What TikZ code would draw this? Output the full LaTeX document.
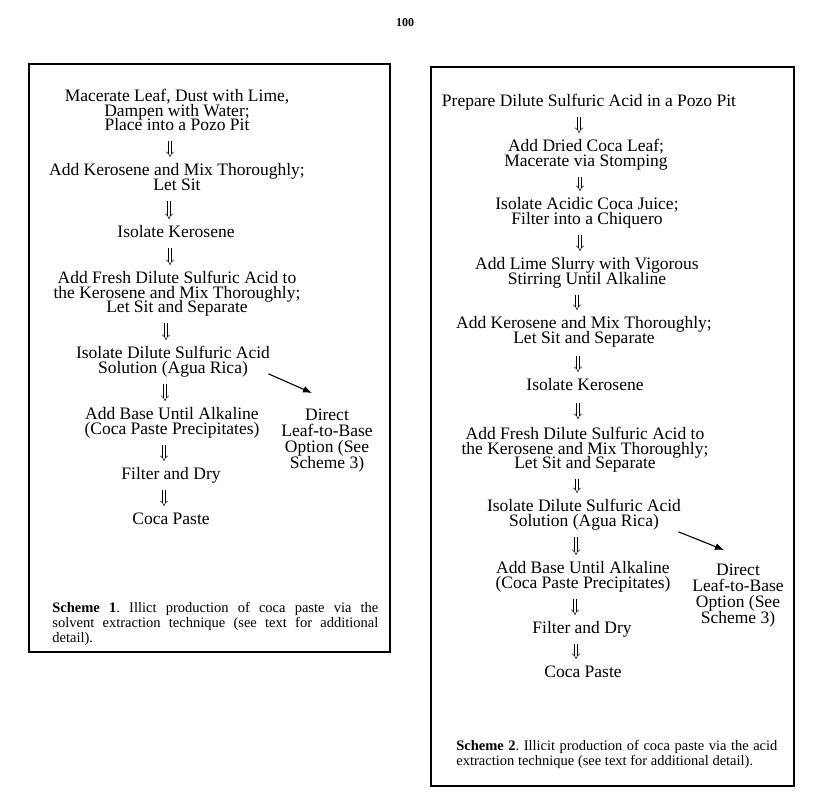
\documentclass[tikz,border=0pt]{standalone}
\usepackage{fontspec}
\setmainfont{Liberation Serif}
\usetikzlibrary{arrows.meta}
\newcommand{\lnstrut}{\rule[-4pt]{0pt}{16.5pt}}
\newcommand{\steptext}[1]{\lnstrut#1\lnstrut}

\begin{document}
\begin{tikzpicture}[x=1pt, y=-1pt, >=Latex, line width=0.8pt,
  txt/.style={align=center, inner sep=0pt, anchor=north,
    font={\fontsize{17.5}{14.5}\selectfont\lineskiplimit=-50pt}},
  sidetxt/.style={txt, font={\fontsize{17.5}{16}\selectfont\lineskiplimit=-50pt}},
  capt/.style={inner sep=0pt, anchor=north west, text width=#1, align=justify,
    font={\fontsize{14.5}{15}\selectfont\frenchspacing\tolerance=10000}},
  flow/.style={double, double distance=2.4pt, line width=0.5pt, -{Implies[scale=1.2]},
    shorten <=6pt, shorten >=6pt},
  jump/.style={-{Latex[length=9pt,width=7pt]}, line width=1.1pt}]
\useasboundingbox (0,0) rectangle (828,806);

\node[inner sep=0pt, font=\bfseries\fontsize{12}{14}\selectfont] (pg) at (405,23) {100};

\draw[line width=1.5pt] (29,64) rectangle (390,652);
\draw[line width=1.5pt] (431,67) rectangle (794,786);

\node[txt] (l1) at (177,89) {\steptext{Macerate Leaf, Dust with Lime,\\ Dampen with Water;\\ Place into a Pozo Pit}};
\node[txt] (l2) at (177,163) {\steptext{Add Kerosene and Mix Thoroughly;\\ Let Sit}};
\node[txt] (l3) at (176,225) {\steptext{Isolate Kerosene}};
\node[txt] (l4) at (177,271) {\steptext{Add Fresh Dilute Sulfuric Acid to\\ the Kerosene and Mix Thoroughly;\\ Let Sit and Separate}};
\node[txt] (l5) at (173,346) {\steptext{Isolate Dilute Sulfuric Acid\\ Solution (Agua Rica)}};
\node[txt] (l6) at (172,407) {\steptext{Add Base Until Alkaline\\ (Coca Paste Precipitates)}};
\node[txt] (l7) at (171,467) {\steptext{Filter and Dry}};
\node[txt] (l8) at (171,512) {\steptext{Coca Paste}};
\node[sidetxt] (ld) at (327,408) {\steptext{Direct\\ Leaf-to-Base\\ Option (See\\ Scheme 3)}};
\node[capt=326pt] (lcap) at (52,602) {\textbf{Scheme 1}. Illict production of coca paste via the\linebreak solvent extraction technique (see text for additional\linebreak detail).};

\node[txt] (r1) at (589,94) {\steptext{Prepare Dilute Sulfuric Acid in a Pozo Pit}};
\node[txt] (r2) at (586,139) {\steptext{Add Dried Coca Leaf;\\ Macerate via Stomping}};
\node[txt] (r3) at (587,197) {\steptext{Isolate Acidic Coca Juice;\\ Filter into a Chiquero}};
\node[txt] (r4) at (587,257) {\steptext{Add Lime Slurry with Vigorous\\ Stirring Until Alkaline}};
\node[txt] (r5) at (584,316) {\steptext{Add Kerosene and Mix Thoroughly;\\ Let Sit and Separate}};
\node[txt] (r6) at (585,378) {\steptext{Isolate Kerosene}};
\node[txt] (r7) at (585,427) {\steptext{Add Fresh Dilute Sulfuric Acid to\\ the Kerosene and Mix Thoroughly;\\ Let Sit and Separate}};
\node[txt] (r8) at (584,499) {\steptext{Isolate Dilute Sulfuric Acid\\ Solution (Agua Rica)}};
\node[txt] (r9) at (583,561) {\steptext{Add Base Until Alkaline\\ (Coca Paste Precipitates)}};
\node[txt] (r10) at (582,621) {\steptext{Filter and Dry}};
\node[txt] (r11) at (583,665) {\steptext{Coca Paste}};
\node[sidetxt] (rd) at (738,563) {\steptext{Direct\\ Leaf-to-Base\\ Option (See\\ Scheme 3)}};
\node[capt=321pt] (rcap) at (456,740) {\textbf{Scheme 2}. Illicit production of coca paste via the acid\linebreak extraction technique (see text for additional detail).};

\draw[flow] ([xshift=-7pt]l2.north |- l1.south) -- ([xshift=-7pt]l2.north);
\draw[flow] ([xshift=-7pt]l3.north |- l2.south) -- ([xshift=-7pt]l3.north);
\draw[flow] ([xshift=-7pt]l4.north |- l3.south) -- ([xshift=-7pt]l4.north);
\draw[flow] ([xshift=-7pt]l5.north |- l4.south) -- ([xshift=-7pt]l5.north);
\draw[flow] ([xshift=-7pt]l6.north |- l5.south) -- ([xshift=-7pt]l6.north);
\draw[flow] ([xshift=-7pt]l7.north |- l6.south) -- ([xshift=-7pt]l7.north);
\draw[flow] ([xshift=-7pt]l8.north |- l7.south) -- ([xshift=-7pt]l8.north);
\draw[jump] ([shift={(-2,-4)}]l5.south east) -- ([shift={(-15,-15)}]ld.north);

\draw[flow] ([xshift=-7pt]r2.north |- r1.south) -- ([xshift=-7pt]r2.north);
\draw[flow] ([xshift=-7pt]r3.north |- r2.south) -- ([xshift=-7pt]r3.north);
\draw[flow] ([xshift=-7pt]r4.north |- r3.south) -- ([xshift=-7pt]r4.north);
\draw[flow] ([xshift=-7pt]r5.north |- r4.south) -- ([xshift=-7pt]r5.north);
\draw[flow, shorten <=8pt] ([xshift=-7pt]r6.north |- r5.south) -- ([xshift=-7pt]r6.north);
\draw[flow, shorten <=8pt, shorten >=8pt] ([xshift=-7pt]r7.north |- r6.south) -- ([xshift=-7pt]r7.north);
\draw[flow] ([xshift=-7pt]r8.north |- r7.south) -- ([xshift=-7pt]r8.north);
\draw[flow] ([xshift=-7pt]r9.north |- r8.south) -- ([xshift=-7pt]r9.north);
\draw[flow] ([xshift=-7pt]r10.north |- r9.south) -- ([xshift=-7pt]r10.north);
\draw[flow] ([xshift=-7pt]r11.north |- r10.south) -- ([xshift=-7pt]r11.north);
\draw[jump] ([shift={(-3,1)}]r8.south east) -- ([shift={(-14,-13)}]rd.north);
\end{tikzpicture}
\end{document}
